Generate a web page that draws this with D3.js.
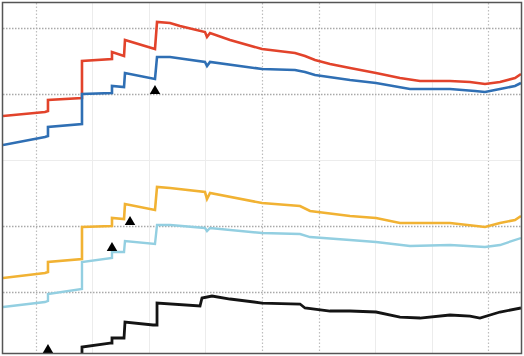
<!DOCTYPE html>
<html>
<head>
<meta charset="utf-8">
<script src="https://cdn.jsdelivr.net/npm/d3@7"></script>
<style>
  html, body { margin: 0; padding: 0; background: #fff; }
  svg { display: block; }
</style>
</head>
<body>
<svg id="chart" width="524" height="356"></svg>
<script>
// Series as [t, value] pairs; repeated t values form the vertical steps.
const redSeries = [
  [0.416, 26.67], [1.159, 27.27], [1.212, 27.42], [1.212, 29.09], [1.814, 29.39], [1.814, 35.0],
  [2.345, 35.3], [2.345, 36.36], [2.558, 35.76], [2.575, 38.18], [3.106, 36.82], [3.142, 40.91],
  [3.372, 40.76], [3.549, 40.3], [3.991, 39.39], [4.027, 38.64], [4.08, 39.24], [4.434, 38.18],
  [5.0, 36.82], [5.584, 36.21], [5.761, 35.76], [5.938, 35.15], [6.204, 34.55], [6.558, 33.94],
  [7.018, 33.18], [7.442, 32.42], [7.796, 31.97], [8.327, 31.97], [8.681, 31.82], [8.947, 31.52],
  [9.212, 31.82], [9.478, 32.42], [9.584, 33.03]
];
const blueSeries = [
  [0.416, 22.27], [1.159, 23.48], [1.212, 23.64], [1.212, 25.0], [1.814, 25.45], [1.814, 30.0],
  [2.345, 30.15], [2.345, 31.21], [2.558, 31.06], [2.575, 33.18], [3.106, 32.27], [3.142, 35.61],
  [3.372, 35.61], [3.991, 34.85], [4.027, 34.24], [4.08, 34.85], [5.0, 33.79], [5.584, 33.64],
  [5.761, 33.33], [5.938, 32.88], [6.558, 32.12], [7.018, 31.67], [7.619, 30.76], [8.327, 30.76],
  [8.77, 30.45], [8.947, 30.3], [9.212, 30.76], [9.478, 31.21], [9.584, 31.67]
];
const orangeSeries = [
  [0.416, 2.12], [1.159, 2.88], [1.212, 3.03], [1.212, 4.55], [1.814, 5.0], [1.814, 9.85],
  [2.345, 10.0], [2.345, 11.21], [2.558, 11.06], [2.575, 13.33], [3.106, 12.42], [3.142, 15.91],
  [3.372, 15.76], [3.991, 15.15], [4.027, 14.09], [4.08, 15.0], [5.0, 13.48], [5.673, 13.03],
  [5.85, 12.27], [6.558, 11.52], [7.018, 11.21], [7.442, 10.45], [8.327, 10.45], [8.947, 9.85],
  [9.212, 10.45], [9.478, 10.91], [9.584, 11.52]
];
const lightBlueSeries = [
  [0.416, -2.27], [1.159, -1.52], [1.212, -1.36], [1.212, -0.3], [1.814, 0.45], [1.814, 4.55],
  [2.345, 5.15], [2.345, 6.06], [2.558, 6.06], [2.575, 7.73], [3.106, 7.27], [3.142, 10.15],
  [3.372, 10.15], [3.991, 9.7], [4.027, 9.24], [4.08, 9.7], [5.0, 8.94], [5.673, 8.79],
  [5.85, 8.33], [6.558, 7.88], [7.018, 7.58], [7.619, 6.97], [8.327, 7.12], [8.947, 6.82],
  [9.212, 7.12], [9.584, 8.18]
];
const blackSeries = [
  [1.814, -10.5], [1.814, -8.33], [2.31, -7.73], [2.345, -7.73], [2.345, -6.97], [2.558, -6.97],
  [2.575, -4.55], [3.071, -5.0], [3.142, -5.0], [3.142, -1.67], [3.903, -2.12], [3.938, -0.91],
  [4.115, -0.61], [4.434, -1.06], [5.0, -1.67], [5.673, -1.82], [5.761, -2.42], [6.204, -2.88],
  [6.558, -2.88], [7.018, -3.03], [7.442, -3.79], [7.796, -3.94], [8.327, -3.48], [8.681, -3.64],
  [8.858, -3.94], [9.212, -3.03], [9.584, -2.42]
];

// Event markers [t, value]
const markers = [[3.106, 30.45], [2.664, 10.61], [2.345, 6.67], [1.212, -8.79]];

// Gridline positions; major ones are dotted and darker
const xGrid = [
  { t: 1, major: true }, { t: 2, major: false }, { t: 3, major: false }, { t: 4, major: false },
  { t: 5, major: true }, { t: 6, major: true }, { t: 7, major: false }, { t: 8, major: false },
  { t: 9, major: true }
];
const yGrid = [
  { v: 0, major: true }, { v: 10, major: true }, { v: 20, major: false },
  { v: 30, major: true }, { v: 40, major: true }
];

const series = [
  { data: redSeries, color: "#e2432b", width: 2.6 },
  { data: blueSeries, color: "#2f6fb4", width: 2.6 },
  { data: orangeSeries, color: "#f1b233", width: 2.6 },
  { data: lightBlueSeries, color: "#93cfe1", width: 2.4 },
  { data: blackSeries, color: "#141414", width: 2.8 }
];

const plot = { left: 3, top: 3, right: 521, bottom: 353 };

const x = d3.scaleLinear().domain([0.416, 9.584]).range([plot.left, plot.right]);
const y = d3.scaleLinear().domain([-9.24, 43.79]).range([plot.bottom, plot.top]);

const svg = d3.select("#chart");

svg.append("defs").append("clipPath").attr("id", "plotClip")
  .append("rect")
  .attr("x", plot.left).attr("y", plot.top)
  .attr("width", plot.right - plot.left).attr("height", plot.bottom - plot.top);

const grid = svg.append("g");

grid.selectAll("line.vx").data(xGrid).join("line")
  .attr("class", "vx")
  .attr("x1", d => Math.round(x(d.t)) + 0.5).attr("x2", d => Math.round(x(d.t)) + 0.5)
  .attr("y1", plot.top).attr("y2", plot.bottom)
  .attr("stroke", d => d.major ? "#bdbdbd" : "#ececec")
  .attr("stroke-width", d => d.major ? 1.2 : 1)
  .attr("stroke-dasharray", d => d.major ? "1.5,2" : null);

grid.selectAll("line.hy").data(yGrid).join("line")
  .attr("class", "hy")
  .attr("x1", plot.left).attr("x2", plot.right)
  .attr("y1", d => Math.round(y(d.v)) + 0.5).attr("y2", d => Math.round(y(d.v)) + 0.5)
  .attr("stroke", d => d.major ? "#a9a9a9" : "#ececec")
  .attr("stroke-width", d => d.major ? 1.4 : 1)
  .attr("stroke-dasharray", d => d.major ? "1.5,1.5" : null);

const line = d3.line().x(d => x(d[0])).y(d => y(d[1]));

const lines = svg.append("g").attr("clip-path", "url(#plotClip)");
lines.selectAll("path.series").data(series).join("path")
  .attr("class", "series")
  .attr("d", d => line(d.data))
  .attr("fill", "none")
  .attr("stroke", d => d.color)
  .attr("stroke-width", d => d.width)
  .attr("stroke-linejoin", "miter");

const tri = d3.symbol().type(d3.symbolTriangle).size(48);
lines.selectAll("path.marker").data(markers).join("path")
  .attr("class", "marker")
  .attr("d", tri)
  .attr("transform", d => `translate(${x(d[0])},${y(d[1])})`)
  .attr("fill", "#000");

svg.append("rect")
  .attr("x", plot.left - 0.5).attr("y", plot.top - 0.5)
  .attr("width", plot.right - plot.left + 1).attr("height", plot.bottom - plot.top + 1)
  .attr("fill", "none")
  .attr("stroke", "#555")
  .attr("stroke-width", 1.5);
</script>
</body>
</html>
